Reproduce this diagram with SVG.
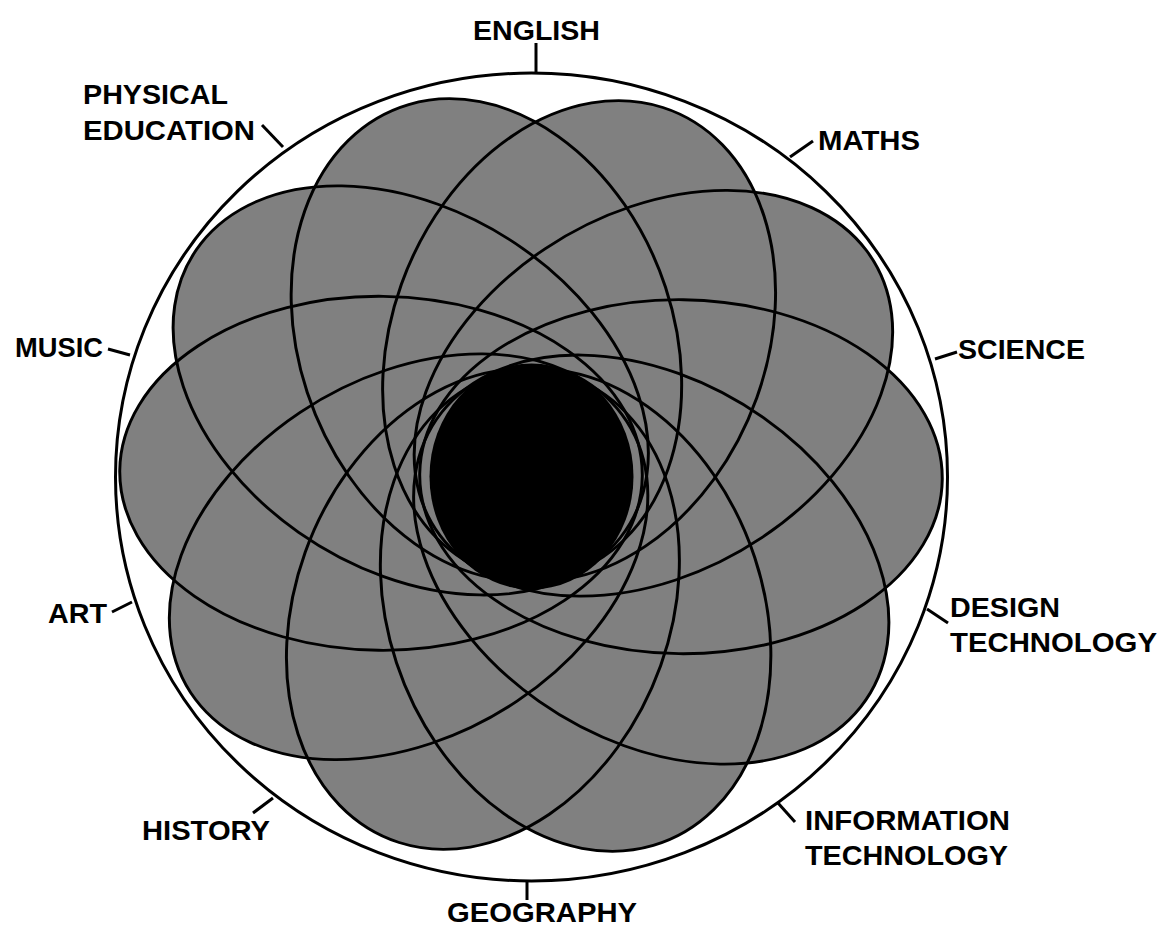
<svg xmlns="http://www.w3.org/2000/svg" width="1167" height="927" viewBox="0 0 1167 927">
<style>
.lbl{font-family:"Liberation Sans",Arial,sans-serif;font-weight:bold;font-size:28.5px;fill:#000}
.tick{stroke:#000;stroke-width:3;fill:none;stroke-linecap:butt}
.pf{fill:#808080;stroke:none}
.po{fill:none;stroke:#000;stroke-width:2.8}
</style>
<defs>
<ellipse id="petal" cx="141.5" cy="0" rx="246.5" ry="177"/>
</defs>
<rect width="1167" height="927" fill="#fff"/>
<g id="outer-circle">
<ellipse cx="531.5" cy="477" rx="416" ry="404" fill="#fff" stroke="#000" stroke-width="3"/>
</g>
<g id="petals" transform="translate(531 475) scale(1.06 1) rotate(0.7)">
<g id="petal-fills" class="pf">
<use href="#petal" transform="rotate(0)"/>
<use href="#petal" transform="rotate(-36)"/>
<use href="#petal" transform="rotate(-72)"/>
<use href="#petal" transform="rotate(-108)"/>
<use href="#petal" transform="rotate(-144)"/>
<use href="#petal" transform="rotate(-180)"/>
<use href="#petal" transform="rotate(-216)"/>
<use href="#petal" transform="rotate(-252)"/>
<use href="#petal" transform="rotate(-288)"/>
<use href="#petal" transform="rotate(-324)"/>
</g>
<g id="petal-outlines" class="po">
<use href="#petal" transform="rotate(0)"/>
<use href="#petal" transform="rotate(-36)"/>
<use href="#petal" transform="rotate(-72)"/>
<use href="#petal" transform="rotate(-108)"/>
<use href="#petal" transform="rotate(-144)"/>
<use href="#petal" transform="rotate(-180)"/>
<use href="#petal" transform="rotate(-216)"/>
<use href="#petal" transform="rotate(-252)"/>
<use href="#petal" transform="rotate(-288)"/>
<use href="#petal" transform="rotate(-324)"/>
</g>
</g>
<g id="center">
<ellipse cx="531.5" cy="476.5" rx="102" ry="113" fill="#000"/>
</g>
<g id="connectors" class="tick">
<line x1="536" y1="43" x2="536" y2="74"/>
<line x1="262" y1="125" x2="283" y2="147"/>
<line x1="813" y1="141" x2="790" y2="157"/>
<line x1="108" y1="349" x2="130" y2="355"/>
<line x1="935" y1="359" x2="957" y2="352"/>
<line x1="112" y1="612" x2="132" y2="602"/>
<line x1="927" y1="609" x2="948" y2="623"/>
<line x1="273" y1="798" x2="253" y2="813"/>
<line x1="778" y1="803" x2="795" y2="822"/>
<line x1="527" y1="880" x2="527" y2="900"/>
</g>
<g id="english"><text class="lbl" x="473" y="40" textLength="127" lengthAdjust="spacingAndGlyphs">ENGLISH</text></g>
<g id="physical-education"><text class="lbl" x="83" y="104" textLength="145" lengthAdjust="spacingAndGlyphs">PHYSICAL</text><text class="lbl" x="83" y="140" textLength="172" lengthAdjust="spacingAndGlyphs">EDUCATION</text></g>
<g id="maths"><text class="lbl" x="818" y="150" textLength="102" lengthAdjust="spacingAndGlyphs">MATHS</text></g>
<g id="music"><text class="lbl" x="15" y="357" textLength="88" lengthAdjust="spacingAndGlyphs">MUSIC</text></g>
<g id="science"><text class="lbl" x="958" y="359" textLength="127" lengthAdjust="spacingAndGlyphs">SCIENCE</text></g>
<g id="art"><text class="lbl" x="48" y="623" textLength="59" lengthAdjust="spacingAndGlyphs">ART</text></g>
<g id="design-technology"><text class="lbl" x="950" y="617" textLength="110" lengthAdjust="spacingAndGlyphs">DESIGN</text><text class="lbl" x="950" y="652" textLength="207" lengthAdjust="spacingAndGlyphs">TECHNOLOGY</text></g>
<g id="history"><text class="lbl" x="142" y="840" textLength="128" lengthAdjust="spacingAndGlyphs">HISTORY</text></g>
<g id="information-technology"><text class="lbl" x="805" y="830" textLength="205" lengthAdjust="spacingAndGlyphs">INFORMATION</text><text class="lbl" x="805" y="865" textLength="203" lengthAdjust="spacingAndGlyphs">TECHNOLOGY</text></g>
<g id="geography"><text class="lbl" x="447" y="922" textLength="190" lengthAdjust="spacingAndGlyphs">GEOGRAPHY</text></g>
</svg>
